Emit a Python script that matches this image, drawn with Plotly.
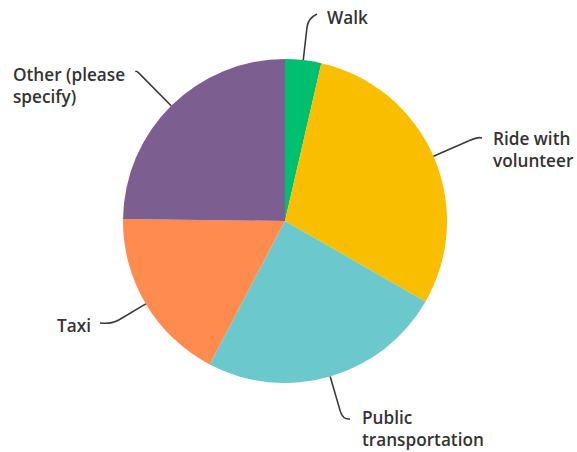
import math
import plotly.graph_objects as go

# Survey answers (share of respondents, %)
categories = ["Walk", "Ride with volunteer", "Public transportation", "Taxi", "Other (please specify)"]
values = [3.6, 29.7, 24.4, 17.5, 24.8]
label_text = ["Walk", "Ride with<br>volunteer", "Public<br>transportation", "Taxi", "Other (please<br>specify)"]
colors = ["#00BF6F", "#F9BE00", "#6BC8CD", "#FF8B4F", "#7D5E90"]

W, H = 577, 452
CX, CY, R = 285, 221, 162  # pie centre and radius in pixels

# Label placement (pixels): anchor x, anchor y, x-anchor, leader knee distance, leader end
label_layout = [
    dict(x=325, y=18, xanchor="left", knee=33, end=(317, 14)),
    dict(x=491, y=149, xanchor="left", knee=40, end=(482, 138)),
    dict(x=360, y=428, xanchor="left", knee=36, end=(350, 419)),
    dict(x=93, y=325, xanchor="right", knee=31, end=(100, 323)),
    dict(x=11, y=86, xanchor="left", knee=42, end=(136, 72)),
]


def px(x, y):
    return x / W, 1 - y / H


fig = go.Figure(
    go.Pie(
        labels=categories,
        values=values,
        sort=False,
        direction="clockwise",
        rotation=0,
        textinfo="none",
        marker=dict(colors=colors, line=dict(width=0)),
        domain=dict(x=[(CX - R) / W, (CX + R) / W], y=[1 - (CY + R) / H, 1 - (CY - R) / H]),
        showlegend=False,
    )
)

total = sum(values)
cum = 0.0
shapes, annotations = [], []
for val, txt, lay in zip(values, label_text, label_layout):
    mid = (cum + val / 2) / total * 2 * math.pi
    cum += val
    ux, uy = math.sin(mid), -math.cos(mid)
    sx, sy = CX + R * ux, CY + R * uy
    kx, ky = CX + (R + lay["knee"]) * ux, CY + (R + lay["knee"]) * uy
    qx, qy = CX + (R + lay["knee"] + 9) * ux, CY + (R + lay["knee"] + 9) * uy
    ex, ey = lay["end"]
    p = [px(sx, sy), px(kx, ky), px(qx, qy), px(ex, ey)]
    path = "M {:.5f},{:.5f} L {:.5f},{:.5f} Q {:.5f},{:.5f} {:.5f},{:.5f}".format(
        p[0][0], p[0][1], p[1][0], p[1][1], p[2][0], p[2][1], p[3][0], p[3][1]
    )
    shapes.append(dict(type="path", xref="paper", yref="paper", path=path,
                       line=dict(color="#3a3a3a", width=1.6)))
    ax, ay = px(lay["x"], lay["y"])
    annotations.append(dict(
        x=ax, y=ay, xref="paper", yref="paper", text=txt, showarrow=False,
        xanchor=lay["xanchor"], yanchor="middle", align="left",
        font=dict(family="Open Sans", size=17.2, color="#333333", weight=600),
    ))

fig.update_layout(
    width=W, height=H,
    margin=dict(l=0, r=0, t=0, b=0),
    paper_bgcolor="white",
    plot_bgcolor="white",
    shapes=shapes,
    annotations=annotations,
)

fig.write_html("out.html")
